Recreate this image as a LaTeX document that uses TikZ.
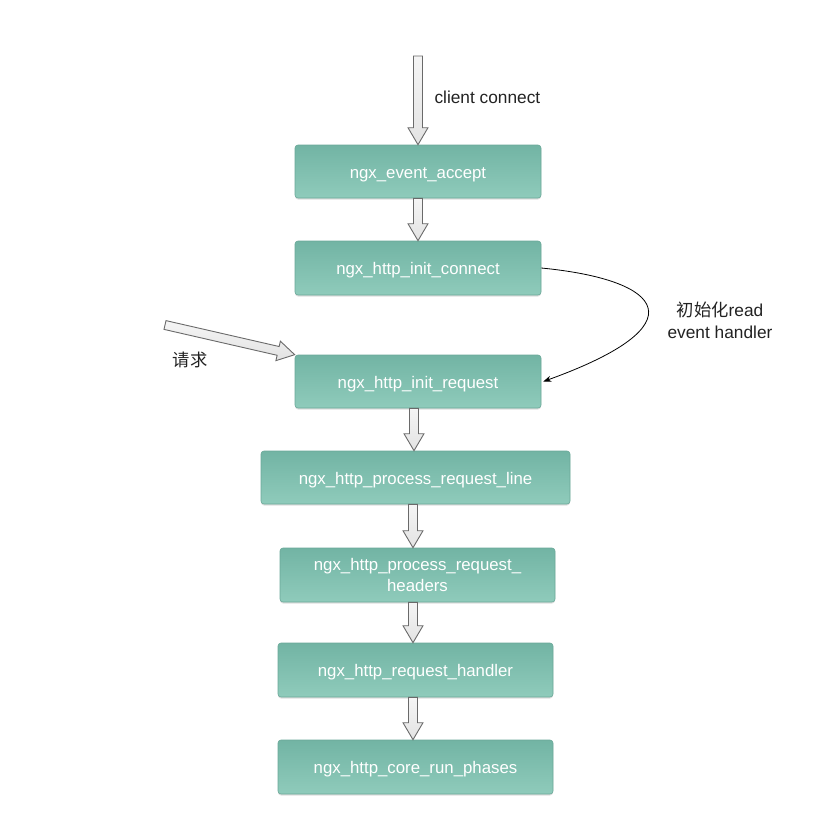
\documentclass[tikz,border=0pt]{standalone}
\usepackage{fontspec}
\setmainfont{Liberation Sans}
\newfontfamily\cjk{Noto Sans CJK SC}
\usetikzlibrary{calc,shadows,arrows.meta}
\definecolor{boxtop}{HTML}{72B4A4}
\definecolor{boxbot}{HTML}{8FCBBB}
\definecolor{boxline}{HTML}{6AA898}
\definecolor{arrline}{HTML}{6A6A6A}
\definecolor{txt}{HTML}{222222}
\tikzset{
  fbox/.style={rounded corners=3pt, draw=boxline, line width=0.6pt,
    top color=boxtop, bottom color=boxbot, text=white,
    font=\fontsize{16.8}{21}\selectfont, align=center,
    drop shadow={shadow xshift=0pt, shadow yshift=-1.5pt, opacity=0.25}},
  barrow/.style={draw=arrline, line width=0.9pt, top color=gray!8, bottom color=gray!22, line join=miter},
  lbl/.style={text=txt, font=\fontsize{17.3}{22}\selectfont, align=center},
}
\newcommand\lowtxt[1]{\raisebox{-6.5pt}[0pt][0pt]{#1}}
\newcommand\blockarr[2]{%
  \coordinate (ba1) at (#1);
  \coordinate (ba2) at (#2);
  \coordinate (bah) at ($(ba2)!17pt!(ba1)$);
  \draw[barrow] ($(ba1)!4.5pt!90:(ba2)$) -- ($(bah)!4.5pt!90:(ba2)$)
    -- ($(bah)!10pt!90:(ba2)$) -- (ba2) -- ($(bah)!10pt!-90:(ba2)$)
    -- ($(bah)!4.5pt!-90:(ba2)$) -- ($(ba1)!4.5pt!-90:(ba2)$) -- cycle;
}
\begin{document}
\begin{tikzpicture}[x=1pt,y=-1pt]
\useasboundingbox (0,0) rectangle (831,822);
\node[fbox, minimum width=246pt, minimum height=53pt] (ea) at (418,171.5) {\lowtxt{ngx\_event\_accept}};
\node[fbox, minimum width=246pt, minimum height=54pt] (ic) at (418,268) {\lowtxt{ngx\_http\_init\_connect}};
\node[fbox, minimum width=246pt, minimum height=53pt] (ir) at (418,381.5) {\lowtxt{ngx\_http\_init\_request}};
\node[fbox, minimum width=309pt, minimum height=53pt] (pl) at (415.5,477.5) {\lowtxt{ngx\_http\_process\_request\_line}};
\node[fbox, minimum width=275pt, minimum height=54pt] (ph) at (417.5,575) {ngx\_http\_process\_request\_\\headers};
\node[fbox, minimum width=275pt, minimum height=54pt] (rh) at (415.5,670) {\lowtxt{ngx\_http\_request\_handler}};
\node[fbox, minimum width=275pt, minimum height=54pt] (cr) at (415.5,767) {\lowtxt{ngx\_http\_core\_run\_phases}};

\coordinate (cc) at (418,56);
\coordinate (rq) at (165,325);
\blockarr{cc}{ea.north}
\blockarr{ea.south}{ic.north}
\blockarr{$(ir.south)+(-4,0)$}{$(pl.north)+(-1.5,0)$}
\blockarr{$(pl.south)+(-2.5,0)$}{$(ph.north)+(-4.5,0)$}
\blockarr{$(ph.south)+(-4.5,0)$}{$(rh.north)+(-2.5,0)$}
\blockarr{$(rh.south)+(-2.5,0)$}{$(cr.north)+(-2.5,0)$}
\blockarr{rq}{ir.north west}

\draw[-{Stealth[length=8pt,width=6pt]}, line width=0.8pt] (ic.east) .. controls (665,280) and (700,325) .. ([xshift=2pt]ir.east);

\node[lbl, anchor=west] (lcc) at (431,97) {client connect};
\node[lbl] (lrq) at (190,360) {\cjk 请求};
\node[lbl] (lre) at (720,320) {{\cjk 初始化}read\\event handler};
\end{tikzpicture}
\end{document}
